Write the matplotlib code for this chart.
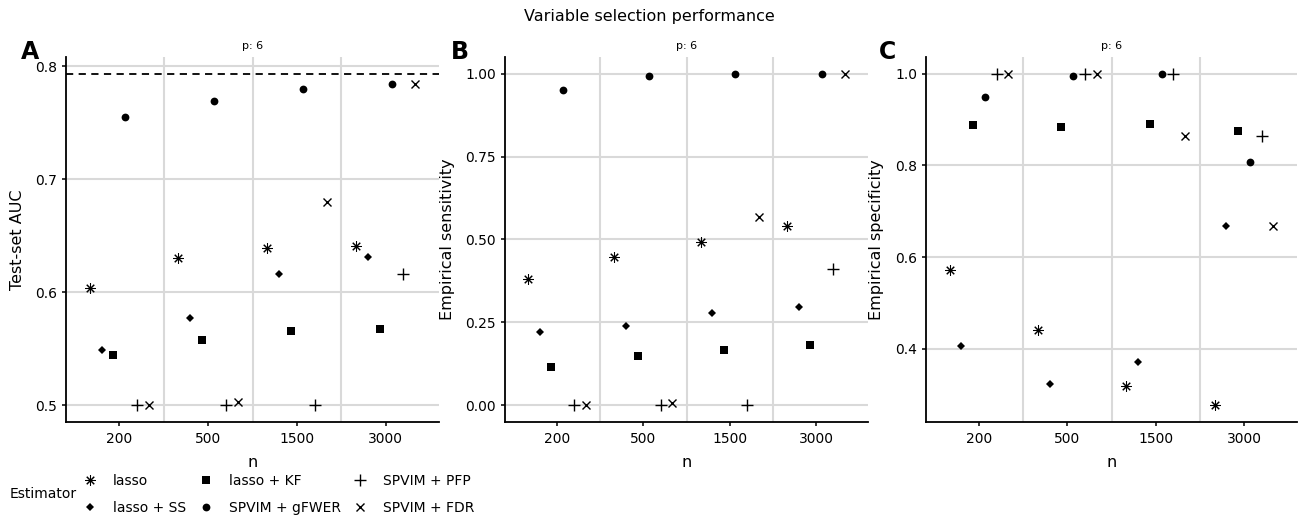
"""
Variable selection performance: test-set AUC, sensitivity and specificity
for six estimators across sample sizes (p = 6).
"""

import matplotlib
matplotlib.use("Agg")
import matplotlib.pyplot as plt
import numpy as np

n_labels = ["200", "500", "1500", "3000"]
estimators = ["lasso", "lasso + SS", "lasso + KF",
              "SPVIM + gFWER", "SPVIM + PFP", "SPVIM + FDR"]

# one row per estimator, one column per n
auc = {
    "lasso": [0.604, 0.630, 0.639, 0.641],
    "lasso + SS": [0.549, 0.577, 0.616, 0.631],
    "lasso + KF": [0.545, 0.558, 0.566, 0.568],
    "SPVIM + gFWER": [0.755, 0.769, 0.780, 0.784],
    "SPVIM + PFP": [0.500, 0.500, 0.500, 0.616],
    "SPVIM + FDR": [0.500, 0.503, 0.680, 0.784],
}
sensitivity = {
    "lasso": [0.380, 0.448, 0.491, 0.542],
    "lasso + SS": [0.220, 0.239, 0.277, 0.297],
    "lasso + KF": [0.115, 0.150, 0.167, 0.181],
    "SPVIM + gFWER": [0.950, 0.994, 1.000, 1.000],
    "SPVIM + PFP": [0.000, 0.000, 0.000, 0.410],
    "SPVIM + FDR": [0.000, 0.006, 0.567, 1.000],
}
specificity = {
    "lasso": [0.573, 0.441, 0.320, 0.277],
    "lasso + SS": [0.406, 0.323, 0.372, 0.667],
    "lasso + KF": [0.888, 0.884, 0.890, 0.874],
    "SPVIM + gFWER": [0.950, 0.994, 1.000, 0.808],
    "SPVIM + PFP": [1.000, 1.000, 1.000, 0.864],
    "SPVIM + FDR": [1.000, 1.000, 0.864, 0.667],
}
oracle_auc = 0.7935

markers = {
    "lasso": dict(marker=(8, 2, 0), ms=7.5, mew=0.75),
    "lasso + SS": dict(marker="D", ms=3.6, mew=0),
    "lasso + KF": dict(marker="s", ms=5.2, mew=0),
    "SPVIM + gFWER": dict(marker="o", ms=5.6, mew=0),
    "SPVIM + PFP": dict(marker="+", ms=8, mew=1.0),
    "SPVIM + FDR": dict(marker="x", ms=6, mew=1.0),
}

W, H = 1299, 519
fig = plt.figure(figsize=(W / 100, H / 100), dpi=100)
plt.rcParams["font.family"] = "DejaVu Sans"

GRID = "#d9d9d9"


def px_axes(left, right, top, bottom):
    return fig.add_axes([left / W, 1 - bottom / H, (right - left) / W, (bottom - top) / H])


def draw_panel(ax, data, ylabel, yticks, yfmt, ylim, letter, letter_x, ylab_x, hline=None):
    x = np.arange(1, len(n_labels) + 1)
    width = 0.8
    k = len(estimators)
    for i, est in enumerate(estimators):
        off = -width / 2 + width / (2 * k) + i * width / k
        ax.plot(x + off, data[est], linestyle="none", color="black",
                label=est, **markers[est], zorder=3)
    if hline is not None:
        ax.axhline(hline, color="black", ls=(0, (4, 3)), lw=1.3, zorder=2)
    for b in [1.5, 2.5, 3.5]:
        ax.axvline(b, color=GRID, lw=1.5, zorder=0)
    for t in yticks:
        ax.axhline(t, color=GRID, lw=1.5, zorder=0)
    ax.set_xlim(0.4, 4.6)
    ax.set_ylim(*ylim)
    ax.set_xticks(x)
    ax.set_xticklabels(n_labels)
    ax.set_yticks(yticks)
    ax.set_yticklabels([yfmt.format(t) for t in yticks])
    ax.tick_params(labelsize=10, length=3, width=1.1, colors="black")
    ax.tick_params(axis="x", pad=4.5)
    for s in ["top", "right"]:
        ax.spines[s].set_visible(False)
    for s in ["left", "bottom"]:
        ax.spines[s].set_linewidth(1.3)
    ax.set_xlabel("n", fontsize=11.5)
    ax.xaxis.set_label_coords(0.5, -0.09)
    ax.set_ylabel(ylabel, fontsize=11.5)
    ax.yaxis.set_label_coords(ylab_x, 0.5)
    ax.set_title("p: 6", fontsize=8, pad=6)
    fig.text(letter_x / W, 1 - 52 / H, letter, fontsize=17, fontweight="bold", va="center")


axA = px_axes(66, 439, 57, 422)
axB = px_axes(505, 868, 57, 422)
axC = px_axes(926, 1297, 57, 422)

draw_panel(axA, auc, "Test-set AUC", [0.5, 0.6, 0.7, 0.8], "{:.1f}",
           (0.4853, 0.8082), "A", 21, -0.11, hline=oracle_auc)
draw_panel(axB, sensitivity, "Empirical sensitivity", [0.0, 0.25, 0.5, 0.75, 1.0], "{:.2f}",
           (-0.05, 1.05), "B", 451, -0.138)
draw_panel(axC, specificity, "Empirical specificity", [0.4, 0.6, 0.8, 1.0], "{:.1f}",
           (0.2408, 1.0362), "C", 879, -0.113)

fig.text(0.5, 1 - 17 / H, "Variable selection performance", ha="center", va="center", fontsize=11.5)

handles, labels = axA.get_legend_handles_labels()
fig.legend(handles, labels, ncol=3, loc="center left",
           bbox_to_anchor=(82 / W, 1 - 494.5 / H), frameon=False, fontsize=10,
           handlelength=1.2, handletextpad=1.05, columnspacing=0.8, labelspacing=0.95,
           borderaxespad=0, borderpad=0)
fig.text(10 / W, 1 - 494 / H, "Estimator", fontsize=10, va="center")

fig.savefig("out.png", dpi=100)
